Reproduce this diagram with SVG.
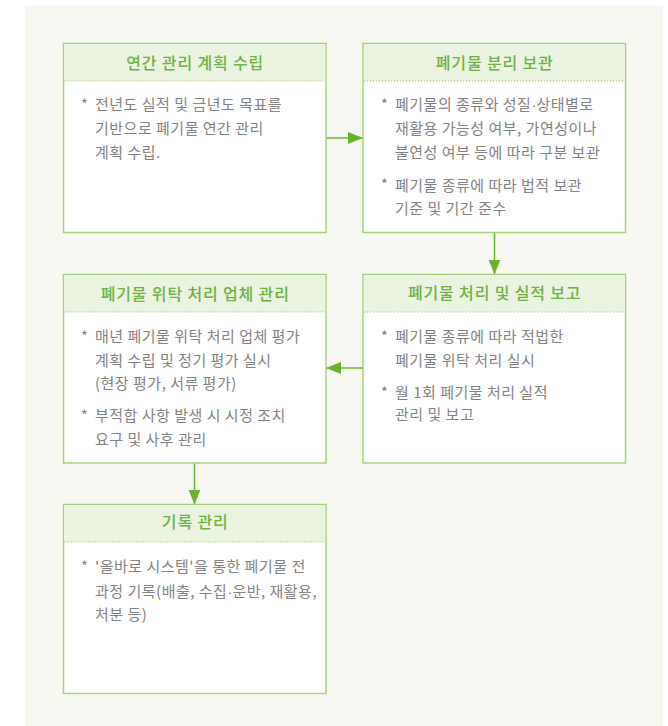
<svg xmlns="http://www.w3.org/2000/svg" width="668" height="726" viewBox="0 0 668 726">
<style>
.box{fill:#ffffff;stroke:#a6d27c;stroke-width:1.5}
.hdr{fill:#eaf4e0}
.dot{stroke:#8cc25a;stroke-width:1;stroke-dasharray:1 2}
.title{font-family:"Noto Sans CJK KR","Noto Sans",sans-serif;font-size:16px;font-weight:500;fill:#6db33f;text-anchor:middle;letter-spacing:0.85px}
.body{font-family:"Noto Sans CJK KR","Noto Sans",sans-serif;font-size:15px;fill:#838383;letter-spacing:0.5px}
.md{font-family:"Liberation Sans",sans-serif;letter-spacing:0}
.bul{font-family:"Noto Sans CJK KR","Noto Sans",sans-serif;font-size:14.5px;fill:#838383}
.conn{stroke:#6ab42d;stroke-width:1.5;fill:none}
</style>
<defs>
<marker id="ah" viewBox="0 0 15 12" refX="15" refY="6" markerWidth="15" markerHeight="12" markerUnits="userSpaceOnUse" orient="auto">
<path d="M0,0 L15,6 L0,12 z" fill="#6ab42d"/>
</marker>
</defs>
<rect x="25" y="5" width="638" height="721" fill="#f6f8f1"/>

<g id="connectors">
<line class="conn" x1="326" y1="138" x2="363" y2="138" marker-end="url(#ah)"/>
<line class="conn" x1="494.5" y1="232.5" x2="494.5" y2="274.5" marker-end="url(#ah)"/>
<line class="conn" x1="363" y1="368" x2="326" y2="368" marker-end="url(#ah)"/>
<line class="conn" x1="194.5" y1="463" x2="194.5" y2="504.5" marker-end="url(#ah)"/>
</g>

<g id="node1">
<rect class="box" x="63.5" y="43.5" width="262.5" height="189"/>
<rect class="hdr" x="64.25" y="44.25" width="261" height="36.75"/>
<line class="dot" x1="64.5" y1="81" x2="325.5" y2="81"/>
<text class="title" x="195.2" y="69.3">연간 관리 계획 수립</text>
<text class="bul" x="81" y="110">*</text>
<text class="body" x="95" y="110.3">전년도 실적 및 금년도 목표를</text>
<text class="body" x="95" y="134">기반으로 폐기물 연간 관리</text>
<text class="body" x="95" y="157.7">계획 수립.</text>
</g>

<g id="node2">
<rect class="box" x="363" y="43.5" width="262.5" height="189"/>
<rect class="hdr" x="363.75" y="44.25" width="261" height="36.75"/>
<line class="dot" x1="364" y1="81" x2="625" y2="81"/>
<text class="title" x="494.7" y="69.3">폐기물 분리 보관</text>
<text class="bul" x="381" y="110">*</text>
<text class="body" x="395" y="110.3">폐기물의 종류와 성질<tspan class="md">·</tspan>상태별로</text>
<text class="body" x="395" y="134">재활용 가능성 여부, 가연성이나</text>
<text class="body" x="395" y="157.7">불연성 여부 등에 따라 구분 보관</text>
<text class="bul" x="381" y="190.4">*</text>
<text class="body" x="395" y="190.7">폐기물 종류에 따라 법적 보관</text>
<text class="body" x="395" y="214.3">기준 및 기간 준수</text>
</g>

<g id="node3">
<rect class="box" x="63.5" y="274.5" width="262.5" height="188.5"/>
<rect class="hdr" x="64.25" y="275.25" width="261" height="36.75"/>
<line class="dot" x1="64.5" y1="312" x2="325.5" y2="312"/>
<text class="title" x="195.2" y="300.3">폐기물 위탁 처리 업체 관리</text>
<text class="bul" x="81" y="341.5">*</text>
<text class="body" x="95" y="341.8">매년 폐기물 위탁 처리 업체 평가</text>
<text class="body" x="95" y="365.5">계획 수립 및 정기 평가 실시</text>
<text class="body" x="95" y="389.2">(현장 평가, 서류 평가)</text>
<text class="bul" x="81" y="421">*</text>
<text class="body" x="95" y="421.3">부적합 사항 발생 시 시정 조치</text>
<text class="body" x="95" y="445">요구 및 사후 관리</text>
</g>

<g id="node4">
<rect class="box" x="363" y="274.5" width="262.5" height="188.5"/>
<rect class="hdr" x="363.75" y="275.25" width="261" height="36.75"/>
<line class="dot" x1="364" y1="312" x2="625" y2="312"/>
<text class="title" x="494.7" y="299.3">폐기물 처리 및 실적 보고</text>
<text class="bul" x="381" y="341.5">*</text>
<text class="body" x="395" y="341.8">폐기물 종류에 따라 적법한</text>
<text class="body" x="395" y="365.5">폐기물 위탁 처리 실시</text>
<text class="bul" x="381" y="398">*</text>
<text class="body" x="395" y="398.3">월 1회 폐기물 처리 실적</text>
<text class="body" x="395" y="419.8">관리 및 보고</text>
</g>

<g id="node5">
<rect class="box" x="63.5" y="504.5" width="262.5" height="189"/>
<rect class="hdr" x="64.25" y="505.25" width="261" height="36.75"/>
<line class="dot" x1="64.5" y1="542" x2="325.5" y2="542"/>
<text class="title" x="195.2" y="528.3">기록 관리</text>
<text class="bul" x="81" y="572">*</text>
<text class="body" x="95" y="572.3">'올바로 시스템'을 통한 폐기물 전</text>
<text class="body" x="95" y="596.5">과정 기록(배출, 수집<tspan class="md">·</tspan>운반, 재활용,</text>
<text class="body" x="95" y="620.2">처분 등)</text>
</g>
</svg>
